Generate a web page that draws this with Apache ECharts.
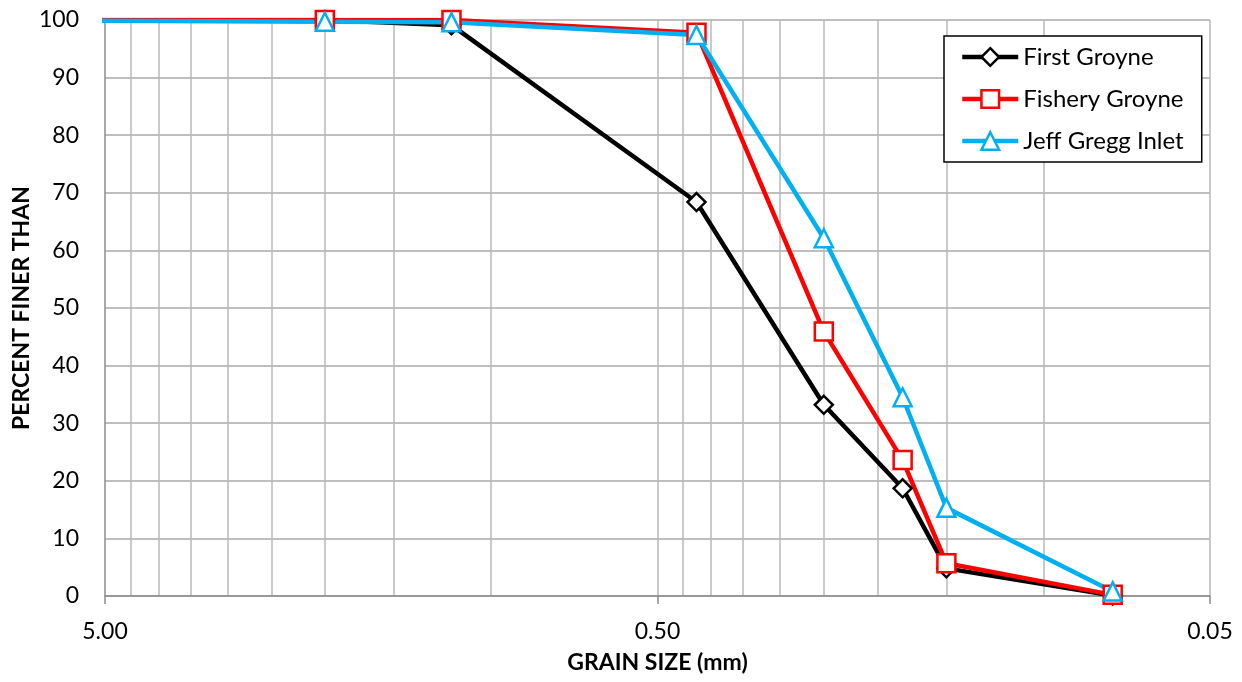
<!DOCTYPE html>
<html>
<head>
<meta charset="utf-8">
<title>Grain Size Distribution</title>
<script src="https://cdn.jsdelivr.net/npm/echarts@6/dist/echarts.min.js"></script>
<style>
  html, body { margin: 0; padding: 0; background: #fff; }
  #chart { width: 1242px; height: 682px; }
</style>
</head>
<body>
<div id="chart"></div>
<script>
// Sieve openings (mm) and cumulative percent passing for each sample site
const grainSizes = [9.5, 2.0, 1.18, 0.425, 0.25, 0.18, 0.15, 0.075];
const firstGroyne = [100, 100, 99.1, 68.4, 33.2, 18.7, 4.8, 0.1];
const fisheryGroyne = [100, 100, 100, 97.8, 45.9, 23.6, 5.7, 0.2];
const jeffGreggInlet = [100, 99.7, 99.6, 97.4, 62.1, 34.5, 15.3, 0.8];

const seriesNames = ['First Groyne', 'Fishery Groyne', 'Jeff Gregg Inlet'];

// Labelled grain sizes and the log-cycle gridlines between them
const majorTicks = [5, 0.5, 0.05];
const gridValues = [4.5, 4, 3.5, 3, 2.5, 2, 1.5, 1, 0.5,
                    0.45, 0.4, 0.35, 0.3, 0.25, 0.2, 0.15, 0.1, 0.05];

const FONT = 'Lato, "Open Sans", "Liberation Sans", sans-serif';

function pairs(values) {
  return grainSizes.map((s, i) => [s, values[i]]);
}

function lineSeries(name, values, color, symbol, size) {
  return {
    name: name,
    type: 'line',
    data: pairs(values),
    xAxisIndex: 0,
    clip: true,
    symbol: symbol,
    symbolSize: size,
    showAllSymbol: true,
    lineStyle: { color: color, width: 4.5 },
    itemStyle: { color: '#ffffff', borderColor: color, borderWidth: 2.5 },
    emphasis: { disabled: true },
    animation: false
  };
}

const chart = echarts.init(document.getElementById('chart'), null, { renderer: 'canvas' });

chart.setOption({
  backgroundColor: '#ffffff',
  animation: false,
  textStyle: { fontFamily: FONT },
  grid: {
    left: 105, right: 32, top: 20, bottom: 86,
    containLabel: false,
    outerBoundsMode: 'none'
  },
  legend: {
    orient: 'vertical',
    left: 944,
    top: 36,
    padding: [9, 18, 9, 16],
    backgroundColor: '#ffffff',
    borderColor: '#000000',
    borderWidth: 1.5,
    itemWidth: 56,
    itemHeight: 22,
    itemGap: 18,
    lineStyle: { width: 4.5 },
    itemStyle: { borderWidth: 2.5 },
    textStyle: { fontFamily: FONT, fontSize: 24, color: '#000' },
    data: seriesNames
  },
  xAxis: [
    {
      type: 'log',
      logBase: 10,
      min: 0.05,
      max: 5,
      inverse: true,
      name: 'GRAIN SIZE (mm)',
      nameLocation: 'middle',
      nameGap: 55,
      nameMoveOverlap: false,
      nameTextStyle: { fontFamily: FONT, fontSize: 23, fontWeight: 'bold', color: '#000' },
      axisLine: { show: true, onZero: false, lineStyle: { color: '#8c8c8c', width: 1.5 } },
      axisTick: { show: true, length: 8, customValues: majorTicks, lineStyle: { color: '#8c8c8c', width: 1.5 } },
      axisLabel: {
        customValues: majorTicks,
        fontFamily: FONT, fontSize: 23, color: '#000', margin: 24,
        formatter: v => Number(v).toFixed(2)
      },
      splitLine: { show: false },
      minorTick: { show: false }
    },
    {
      // gridline-only axis sharing the same log scale
      type: 'log',
      logBase: 10,
      min: 0.05,
      max: 5,
      inverse: true,
      position: 'bottom',
      axisLine: { show: false },
      axisTick: { show: false, customValues: gridValues },
      axisLabel: { show: false, customValues: gridValues },
      splitLine: { show: true, lineStyle: { color: '#b8b8b8', width: 1.5 } }
    }
  ],
  yAxis: {
    type: 'value',
    min: 0,
    max: 100,
    interval: 10,
    name: 'PERCENT FINER THAN',
    nameLocation: 'middle',
    nameGap: 72,
    nameMoveOverlap: false,
    nameRotate: 90,
    nameTextStyle: { fontFamily: FONT, fontSize: 23, fontWeight: 'bold', color: '#000' },
    axisLine: { show: true, lineStyle: { color: '#8c8c8c', width: 1.5 } },
    axisTick: { show: false },
    axisLabel: { fontFamily: FONT, fontSize: 23, color: '#000', margin: 26 },
    splitLine: { show: true, lineStyle: { color: '#a8a8a8', width: 1.5 } }
  },
  series: [
    lineSeries(seriesNames[0], firstGroyne, '#000000', 'diamond', 18),
    lineSeries(seriesNames[1], fisheryGroyne, '#ff0000', 'rect', 18),
    lineSeries(seriesNames[2], jeffGreggInlet, '#00b0f0', 'triangle', 18)
  ]
});
</script>
</body>
</html>
